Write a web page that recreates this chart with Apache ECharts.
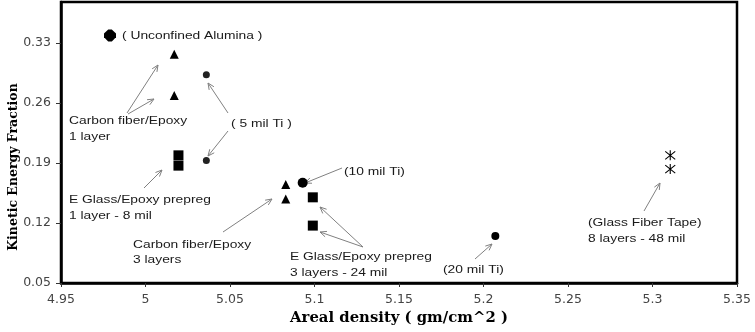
<!DOCTYPE html>
<html>
<head>
<meta charset="utf-8">
<script src="https://cdn.jsdelivr.net/npm/echarts@6/dist/echarts.min.js"></script>
<style>html,body{margin:0;padding:0;background:#fff}#c{width:755px;height:332px}</style>
</head>
<body>
<div id="c"></div>
<script>
// ---- data ----
const xTicks = [4.95, 5, 5.05, 5.1, 5.15, 5.2, 5.25, 5.3, 5.35];
const yTicks = [0.05, 0.12, 0.19, 0.26, 0.33];
const alumina = [[4.979, 0.339]];
const carbon1 = [[5.017, 0.317], [5.017, 0.269]];
const ti5 = [[5.036, 0.293], [5.036, 0.193]];
const glass1 = [[5.0195, 0.199], [5.0195, 0.187]];
const carbon3 = [[5.083, 0.165], [5.083, 0.148]];
const ti10 = [[5.093, 0.167]];
const glass3 = [[5.099, 0.150], [5.099, 0.117]];
const ti20 = [[5.207, 0.105]];
const tape = [[5.3105, 0.199], [5.3105, 0.183]];

// annotation texts
const notes = [
  ['( Unconfined Alumina )', 122, 36],
  ['Carbon fiber/Epoxy', 69, 121], ['1 layer', 69, 137],
  ['( 5 mil Ti )', 231, 124],
  ['E Glass/Epoxy prepreg', 69, 200], ['1 layer - 8 mil', 69, 216],
  ['Carbon fiber/Epoxy', 133, 245], ['3 layers', 133, 260],
  ['(10 mil Ti)', 344, 172],
  ['E Glass/Epoxy prepreg', 290, 257], ['3 layers - 24 mil', 290, 273],
  ['(20 mil Ti)', 443, 270],
  ['(Glass Fiber Tape)', 588, 223], ['8 layers - 48 mil', 588, 239]
];
const arrows = [
  [127, 113, 158, 65], [128, 114, 154, 99],
  [228, 113, 208, 83], [228, 131, 208, 156],
  [144, 188, 162, 170],
  [223, 232, 272, 199],
  [342, 168, 305, 183],
  [363, 247, 320, 207], [363, 247, 320, 232],
  [475, 259, 492, 244],
  [644, 211, 660, 183]
];

const chart = echarts.init(document.getElementById('c'), null, {renderer: 'canvas'});

function arrowEl(a) {
  const [x1, y1, x2, y2] = a;
  const ang = Math.atan2(y2 - y1, x2 - x1);
  const L = 7, w = 0.42;
  const p1 = [x2 - L * Math.cos(ang - w), y2 - L * Math.sin(ang - w)];
  const p2 = [x2 - L * Math.cos(ang + w), y2 - L * Math.sin(ang + w)];
  return {
    type: 'group', silent: true, children: [
      {type: 'line', shape: {x1, y1, x2, y2}, style: {stroke: '#808080', lineWidth: 1}},
      {type: 'polyline', shape: {points: [p1, [x2, y2], p2]}, style: {stroke: '#808080', lineWidth: 1, fill: null}}
    ]
  };
}

const graphics = [];
notes.forEach(n => graphics.push({
  type: 'text', x: n[1], y: n[2], scaleX: 1.2, silent: true,
  style: {text: n[0], x: 0, y: 0, verticalAlign: 'middle', align: 'left',
    font: '11.5px "Liberation Sans", Arial, sans-serif', fill: '#1a1a1a'}
}));
arrows.forEach(a => graphics.push(arrowEl(a)));
graphics.push({
  type: 'text', x: 399, y: 318, scaleX: 1.06, silent: true,
  style: {text: 'Areal density ( gm/cm^2 )', x: 0, y: 0, align: 'center', verticalAlign: 'middle',
    font: 'bold 14px "DejaVu Serif", serif', fill: '#000'}
});
graphics.push({
  type: 'text', x: 14, y: 167, rotation: Math.PI / 2, silent: true,
  style: {text: 'Kinetic Energy Fraction', x: 0, y: 0, align: 'center', verticalAlign: 'middle',
    font: 'bold 12.5px "DejaVu Serif", serif', fill: '#000'}
});

const octagon = 'path://M3.5,0L6.5,0L10,3.5L10,6.5L6.5,10L3.5,10L0,6.5L0,3.5Z';
const star = 'path://M5,0L5,10M0.5,1L9.5,9M9.5,1L0.5,9';

function sc(data, symbol, size, extra) {
  return Object.assign({
    type: 'scatter', data, symbol, symbolSize: size,
    itemStyle: {color: '#000', opacity: 1}, emphasis: {disabled: true}, silent: true
  }, extra || {});
}

chart.setOption({
  animation: false,
  grid: {left: 61, right: 18, top: 2, bottom: 49, show: true, borderColor: '#000', borderWidth: 2.5, backgroundColor: 'transparent'},
  xAxis: {
    type: 'value', min: 4.95, max: 5.35, interval: 0.05,
    axisLine: {show: true, lineStyle: {color: '#000', width: 2.5}},
    axisTick: {show: true, inside: false, length: 4, lineStyle: {color: '#333'}},
    splitLine: {show: false},
    axisLabel: {color: '#444', fontSize: 12.5, fontFamily: '"DejaVu Sans", sans-serif', margin: 10,
      formatter: v => xTicks.some(t => Math.abs(t - v) < 1e-6) ? String(+v.toFixed(2)) : ''}
  },
  yAxis: {
    type: 'value', min: 0.05, max: 0.378, interval: 0.07,
    axisLine: {show: true, lineStyle: {color: '#000', width: 2.5}},
    axisTick: {show: true, inside: false, length: 5, lineStyle: {color: '#333'}},
    splitLine: {show: false},
    axisLabel: {color: '#444', fontSize: 12.5, fontFamily: '"DejaVu Sans", sans-serif', margin: 10,
      showMaxLabel: false,
      formatter: v => yTicks.some(t => Math.abs(t - v) < 1e-6) ? v.toFixed(2) : ''}
  },
  graphic: graphics,
  series: [
    sc(alumina, octagon, 12),
    sc(carbon1, 'triangle', 9),
    sc(ti5, 'circle', 7, {itemStyle: {color: '#222', opacity: 1}}),
    sc(glass1, 'rect', 10),
    sc(carbon3, 'triangle', 9),
    sc(ti10, 'circle', 10),
    sc(glass3, 'rect', 10),
    sc(ti20, 'circle', 8),
    sc(tape, star, 10, {itemStyle: {color: 'none', borderColor: '#000', borderWidth: 1.1, opacity: 1}})
  ]
});
</script>
</body>
</html>
